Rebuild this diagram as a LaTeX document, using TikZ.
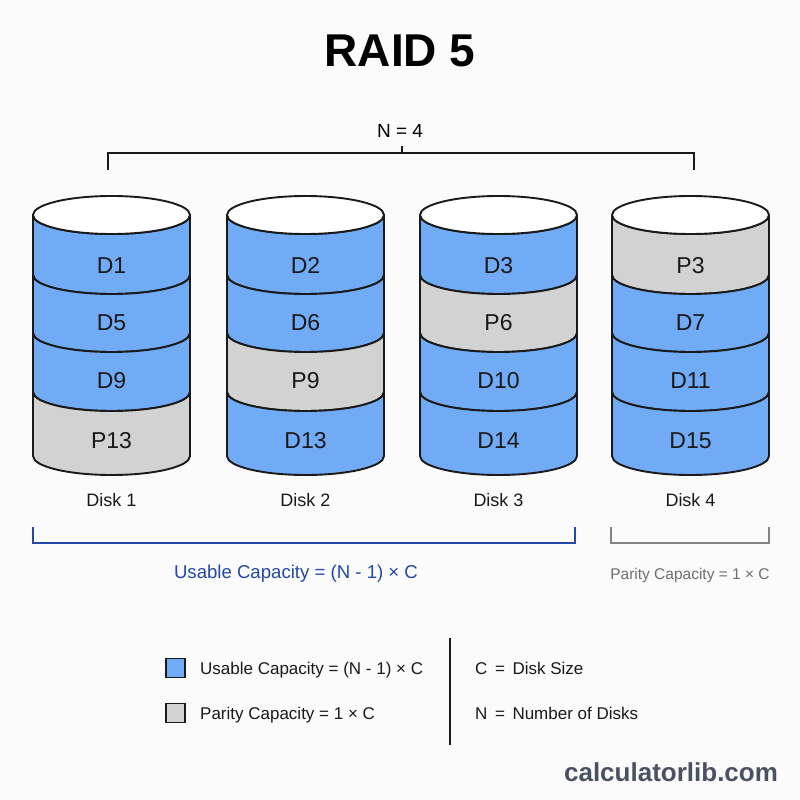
\documentclass[tikz,border=0pt]{standalone}
\usepackage{fontspec}
\setmainfont{Liberation Sans}
\definecolor{ublue}{HTML}{72ABF5}
\definecolor{pgray}{HTML}{D2D2D2}
\definecolor{edgec}{HTML}{1A1A1A}
\definecolor{capblue}{HTML}{2447A8}
\definecolor{capgray}{HTML}{6E6E6E}
\definecolor{wmc}{HTML}{4A5162}
\definecolor{bgc}{HTML}{FBFBFB}
\newcommand\diskseg[4]{%
  \filldraw[fill=#4, diskedge] (#1-78.5,-#2) -- (#1-78.5,-#3)
    arc[start angle=180,end angle=360,x radius=78.5pt,y radius=19pt]
    -- (#1+78.5,-#2)
    arc[start angle=0,end angle=-180,x radius=78.5pt,y radius=19pt] -- cycle;}
\begin{document}
\begin{tikzpicture}[x=1pt,y=1pt,
  diskedge/.style={draw=edgec, line width=1.9pt, line join=round},
  seglabel/.style={anchor=base, font=\fontsize{23}{26}\selectfont, text=black!90, inner sep=0pt},
  disklabel/.style={anchor=base, font=\fontsize{18}{20}\selectfont, text=black!90, inner sep=0pt},
  legtext/.style={anchor=base west, font=\fontsize{17}{19}\selectfont, text=black!90, inner sep=0pt},
  legbox/.style={draw=edgec, line width=1.2pt, minimum size=19pt, inner sep=0pt}]
\useasboundingbox (0,0) rectangle (800,-800);
\fill[bgc] (0,0) rectangle (800,-800);

% title
\node[anchor=base, font=\fontsize{46}{50}\selectfont\bfseries, inner sep=0pt] (title) at (400,-66.5) {RAID 5};

% N = 4 bracket
\node[anchor=base, font=\fontsize{19}{22}\selectfont, inner sep=0pt] (nlabel) at (400,-137) {N = 4};
\coordinate (nl) at (108,-170);
\coordinate (nr) at (694,-170);
\coordinate (ntop) at (402,-146);
\draw[edgec, line width=1.6pt] (nl) -- (108,-153) -- (694,-153) -- (nr);
\draw[edgec, line width=1.6pt] (ntop) -- (402,-153);

% disks
\foreach \cx/\n/\a/\b/\c/\d/\la/\lb/\lc/\ld in {
  111.5/1/ublue/ublue/ublue/pgray/D1/D5/D9/P13,
  305.5/2/ublue/ublue/pgray/ublue/D2/D6/P9/D13,
  498.5/3/ublue/pgray/ublue/ublue/D3/P6/D10/D14,
  690.5/4/pgray/ublue/ublue/ublue/P3/D7/D11/D15}{
  \diskseg{\cx}{215}{275}{\a}
  \diskseg{\cx}{275}{333}{\b}
  \diskseg{\cx}{333}{392}{\c}
  \diskseg{\cx}{392}{456}{\d}
  \filldraw[fill=white, diskedge] (\cx,-215) ellipse [x radius=78.5pt, y radius=19pt];
  \node[seglabel] (d\n a) at (\cx,-273) {\la};
  \node[seglabel] (d\n b) at (\cx,-330) {\lb};
  \node[seglabel] (d\n c) at (\cx,-388.5) {\lc};
  \node[seglabel] (d\n d) at (\cx,-448) {\ld};
  \node[disklabel] (disk\n) at (\cx,-506.5) {Disk \n};
}

% capacity brackets
\draw[capblue, line width=1.6pt] (33,-527) -- (33,-543) -- (575,-543) -- (575,-527);
\node[anchor=base, font=\fontsize{18.6}{20}\selectfont, text=capblue, inner sep=0pt] (usable) at (296,-578.5) {Usable Capacity = (N - 1) × C};
\draw[capgray!85, line width=1.2pt] (611,-527) -- (611,-543) -- (769,-543) -- (769,-527);
\node[anchor=base, font=\fontsize{15.5}{18}\selectfont, text=capgray, inner sep=0pt] (parity) at (690,-579.5) {Parity Capacity = 1 × C};

% legend
\node[legbox, fill=ublue] (lbu) at (175.5,-668) {};
\node[legbox, fill=pgray] (lbp) at (175.5,-713) {};
\node[legtext] (ltu) at (200,-674) {Usable Capacity = (N - 1) × C};
\node[legtext] (ltp) at (200,-719) {Parity Capacity = 1 × C};
\coordinate (sept) at (450,-638);
\coordinate (sepb) at (450,-745);
\draw[edgec, line width=1.2pt] (sept) -- (sepb);
\node[legtext] (ltc) at (475,-674) {C \,=\, Disk Size};
\node[legtext] (ltn) at (475,-719) {N \,=\, Number of Disks};

% watermark
\node[anchor=base, font=\fontsize{26}{30}\selectfont\bfseries, text=wmc, inner sep=0pt] (wm) at (671,-781) {calculatorlib.com};
\end{tikzpicture}
\end{document}
